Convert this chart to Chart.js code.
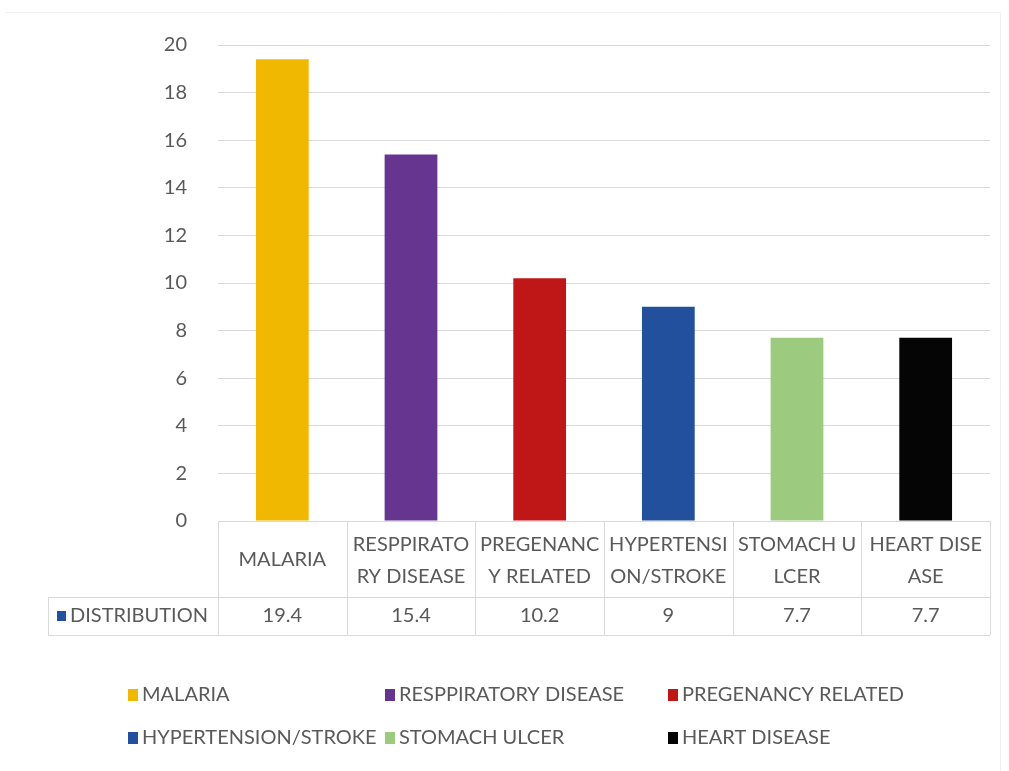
<!DOCTYPE html>
<html>
<head>
<meta charset="utf-8">
<script src="https://cdn.jsdelivr.net/npm/chart.js@4/dist/chart.umd.min.js"></script>
<style>
  html, body { margin: 0; padding: 0; background: #fff; }
  #wrap { width: 1009px; height: 771px; position: relative; }
</style>
</head>
<body>
<div id="wrap"><canvas id="c" width="1009" height="771"></canvas></div>
<script>
// Disease categories and their share
const categories = ['MALARIA', 'RESPPIRATORY DISEASE', 'PREGENANCY RELATED', 'HYPERTENSION/STROKE', 'STOMACH ULCER', 'HEART DISEASE'];
const headerLines = [['MALARIA'], ['RESPPIRATO', 'RY DISEASE'], ['PREGENANC', 'Y RELATED'], ['HYPERTENSI', 'ON/STROKE'], ['STOMACH U', 'LCER'], ['HEART DISE', 'ASE']];
const distribution = [19.4, 15.4, 10.2, 9, 7.7, 7.7];
const tableValueLabels = ['19.4', '15.4', '10.2', '9', '7.7', '7.7'];
const seriesName = 'DISTRIBUTION';
const barColors = ['#F0B800', '#66358F', '#BF1717', '#22509C', '#9CCB7F', '#050505'];
const seriesMarkerColor = '#22509C';

const FONT = 'Lato, "Open Sans", sans-serif';
const TEXT = '#595959';
const LINE = '#d9d9d9';

// Data table underneath the plot area plus the legend
const tablePlugin = {
  id: 'dataTable',
  afterDraw(chart) {
    const ctx = chart.ctx;
    const x = chart.scales.x;
    const area = chart.chartArea;
    const n = categories.length;
    const half = (x.getPixelForValue(1) - x.getPixelForValue(0)) / 2;
    const top = area.bottom;
    const mid = top + 76;
    const bottom = mid + 38;
    const leftCell = 48;

    ctx.save();
    ctx.strokeStyle = LINE;
    ctx.lineWidth = 1;
    ctx.beginPath();
    // horizontal rules
    ctx.moveTo(leftCell, mid + 0.5); ctx.lineTo(area.right, mid + 0.5);
    ctx.moveTo(leftCell, bottom + 0.5); ctx.lineTo(area.right, bottom + 0.5);
    // outer left edge of series name cell
    ctx.moveTo(leftCell + 0.5, mid); ctx.lineTo(leftCell + 0.5, bottom);
    // column separators
    for (let i = 0; i <= n; i++) {
      const px = Math.round(i < n ? x.getPixelForValue(i) - half : x.getPixelForValue(n - 1) + half) + 0.5;
      ctx.moveTo(px, top); ctx.lineTo(px, bottom);
    }
    ctx.stroke();

    ctx.fillStyle = TEXT;
    ctx.font = '20px ' + FONT;
    ctx.textAlign = 'center';
    ctx.textBaseline = 'middle';
    for (let i = 0; i < n; i++) {
      const cx = x.getPixelForValue(i);
      const lines = headerLines[i];
      if (lines.length === 1) {
        ctx.fillText(lines[0], cx, top + 39);
      } else {
        ctx.fillText(lines[0], cx, top + 24);
        ctx.fillText(lines[1], cx, top + 56);
      }
      ctx.fillText(tableValueLabels[i], cx, mid + 19);
    }
    // series name with marker
    ctx.fillStyle = seriesMarkerColor;
    ctx.fillRect(57, mid + 14, 9, 10);
    ctx.fillStyle = TEXT;
    ctx.textAlign = 'left';
    ctx.fillText(seriesName, 70, mid + 19);

    // legend
    const legendCols = [128, 385, 668];
    const legendRows = [695, 738];
    ctx.font = '20px ' + FONT;
    for (let i = 0; i < n; i++) {
      const lx = legendCols[i % 3];
      const ly = legendRows[Math.floor(i / 3)];
      ctx.fillStyle = barColors[i];
      ctx.fillRect(lx, ly - 6, 10, 12);
      ctx.fillStyle = TEXT;
      ctx.fillText(categories[i], lx + 14, ly);
    }

    // faint outer frame
    ctx.strokeStyle = '#f0f0f0';
    ctx.beginPath();
    ctx.moveTo(5, 12.5); ctx.lineTo(1000.5, 12.5); ctx.lineTo(1000.5, 771);
    ctx.stroke();
    ctx.restore();
  }
};

new Chart(document.getElementById('c'), {
  type: 'bar',
  data: {
    labels: categories,
    datasets: [{
      label: seriesName,
      data: distribution,
      backgroundColor: barColors,
      barPercentage: 0.41,
      categoryPercentage: 1.0
    }]
  },
  options: {
    responsive: false,
    animation: false,
    layout: { padding: { top: 45, right: 19, bottom: 250, left: 0 } },
    plugins: { legend: { display: false }, tooltip: { enabled: false } },
    scales: {
      x: { display: false },
      y: {
        min: 0, max: 20,
        ticks: { stepSize: 2, padding: 31, color: TEXT, font: { family: FONT, size: 20 } },
        grid: { color: LINE, drawTicks: false },
        border: { display: false },
        afterFit(scale) { scale.width = 218; }
      }
    }
  },
  plugins: [tablePlugin]
});
</script>
</body>
</html>
